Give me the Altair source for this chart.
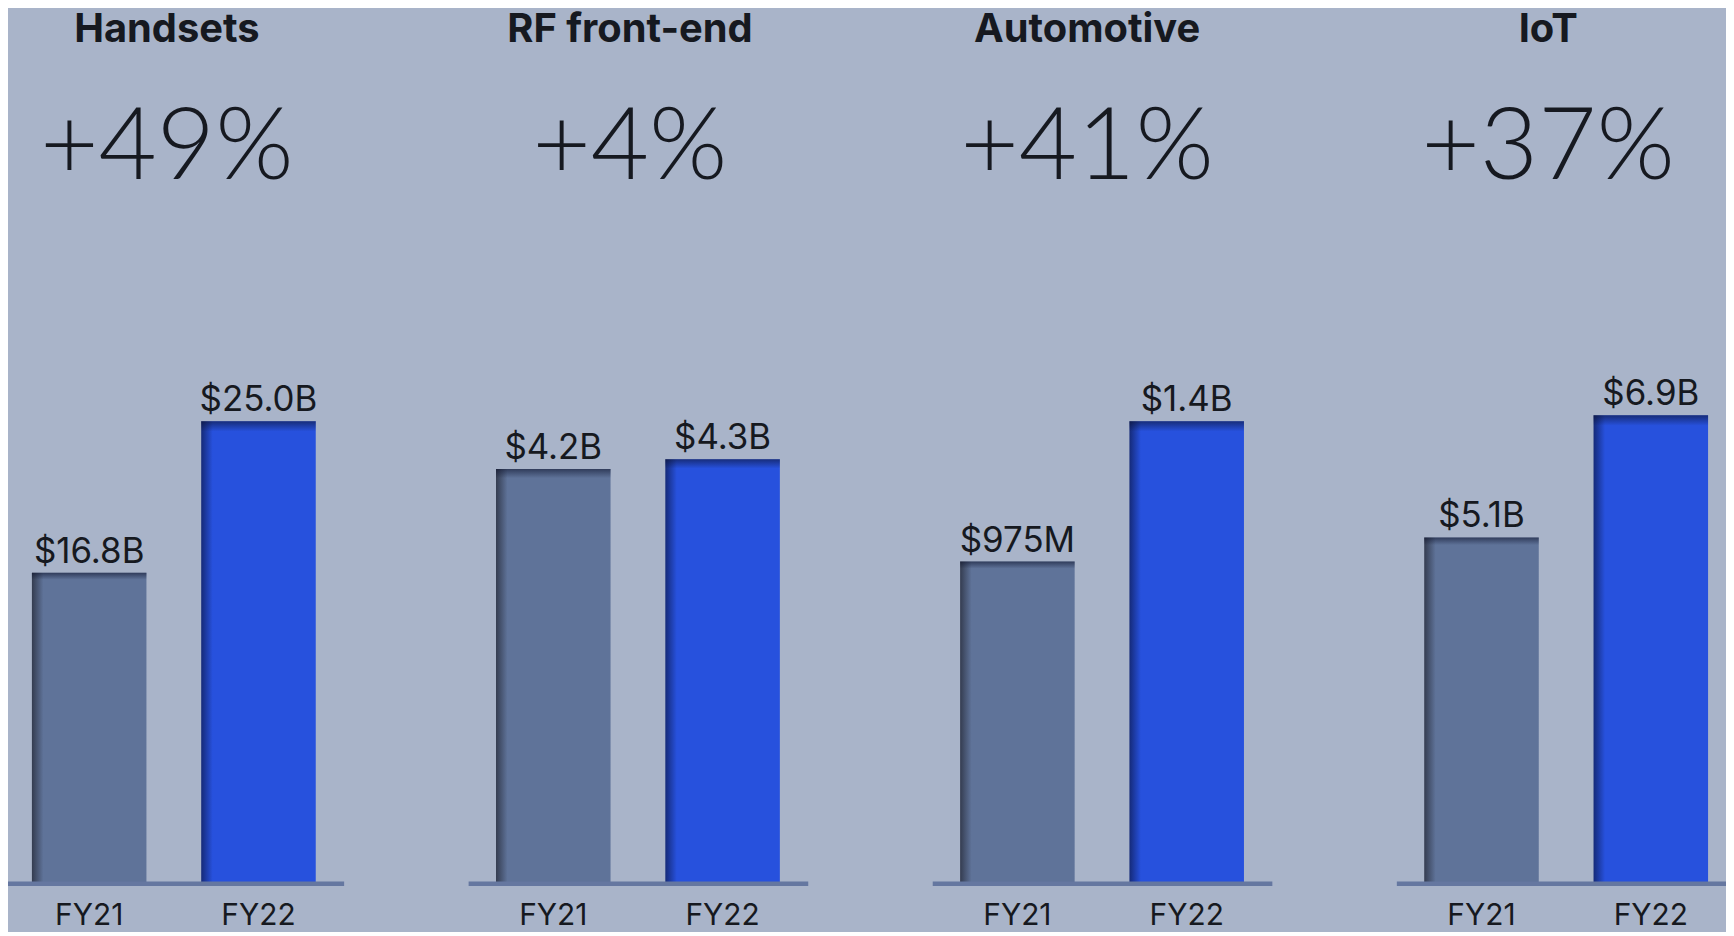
import altair as alt
import pandas as pd

# ---- data ----
categories = ["Handsets", "RF front-end", "Automotive", "IoT"]
growth = ["+49%", "+4%", "+41%", "+37%"]
years = ["FY21", "FY22"]
fy21_values = [16.8, 4.2, 0.975, 5.1]   # $B
fy22_values = [25.0, 4.3, 1.4, 6.9]     # $B
fy21_labels = ["$16.8B", "$4.2B", "$975M", "$5.1B"]
fy22_labels = ["$25.0B", "$4.3B", "$1.4B", "$6.9B"]

# ---- per-panel scale tops (each panel has its own value axis) ----
y_max = [36.97, 6.926, 2.070, 10.074]
title_dx = [-7, -8, -15, -18]

BG = "#a9b4c9"
TXT = "#161920"
GRAY = "#5f7399"
GRAY_DARK = "#343c50"
BLUE = "#2751dd"
BLUE_DARK = "#152a78"
LINE = "#6577a0"


def hgrad(dark, base):
    return alt.Gradient(
        gradient="linear", x1=0, x2=1, y1=0, y2=0,
        stops=[alt.GradientStop(offset=0, color=dark),
               alt.GradientStop(offset=0.1, color=base),
               alt.GradientStop(offset=1, color=base)])


top_shadow = alt.Gradient(
    gradient="linear", x1=0, x2=0, y1=0, y2=1,
    stops=[alt.GradientStop(offset=0, color="rgba(10,15,40,0.55)"),
           alt.GradientStop(offset=0.022, color="rgba(10,15,40,0)"),
           alt.GradientStop(offset=1, color="rgba(10,15,40,0)")])


def panel(i):
    df = pd.DataFrame({
        "year": years,
        "value": [fy21_values[i], fy22_values[i]],
        "label": [fy21_labels[i], fy22_labels[i]],
    })
    base = alt.Chart(df).encode(
        x=alt.X("year:N", sort=years,
                scale=alt.Scale(paddingInner=0.3235, paddingOuter=0.1647),
                axis=alt.Axis(title=None, labelAngle=0, ticks=False,
                              domain=True, domainColor=LINE, domainWidth=4.5,
                              labelFontSize=30, labelFont="Inter",
                              labelColor=TXT, labelPadding=17, zindex=1)),
        y=alt.Y("value:Q", scale=alt.Scale(domain=[0, y_max[i]], nice=False),
                axis=None),
    )
    b21 = base.transform_filter(alt.datum.year == "FY21").mark_bar(
        color=hgrad(GRAY_DARK, GRAY))
    b22 = base.transform_filter(alt.datum.year == "FY22").mark_bar(
        color=hgrad(BLUE_DARK, BLUE))
    shade = base.mark_bar(color=top_shadow)
    txt = base.mark_text(baseline="alphabetic", dy=-10, fontSize=35,
                         font="Inter", color=TXT).encode(text="label:N")
    return alt.layer(b21, b22, shade, txt).properties(
        width=341, height=686,
        title=alt.TitleParams(
            text=categories[i], subtitle=growth[i], anchor="middle",
            dx=title_dx[i], fontSize=40, font="Inter", fontWeight=700,
            color=TXT, subtitleFont="Lato", subtitleFontSize=101,
            subtitleFontWeight=300, subtitleColor=TXT, subtitlePadding=50,
            offset=1),
    )


chart = alt.hconcat(*[panel(i) for i in range(4)], spacing=125,
                    bounds="flush").properties(
    background=BG,
    padding={"left": -4, "top": 0, "right": -10, "bottom": 0},
).configure_view(stroke=None)

chart.save("out.html", embed_options={"renderer": "svg", "actions": False})
